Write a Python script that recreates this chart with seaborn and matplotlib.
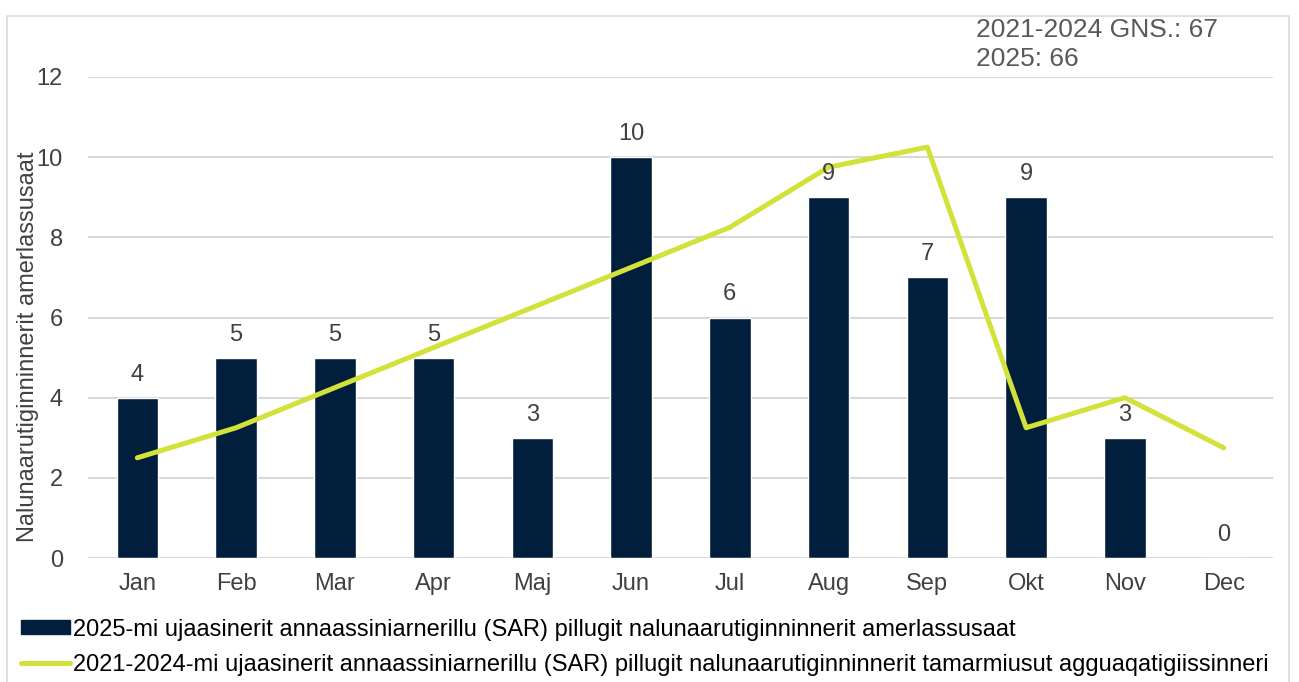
import numpy as np
import pandas as pd
import matplotlib
matplotlib.use("Agg")
import matplotlib.pyplot as plt
import seaborn as sns
from matplotlib.patches import Patch, Rectangle
from matplotlib.lines import Line2D

months = ["Jan", "Feb", "Mar", "Apr", "Maj", "Jun", "Jul", "Aug", "Sep", "Okt", "Nov", "Dec"]
counts_2025 = [4, 5, 5, 5, 3, 10, 6, 9, 7, 9, 3, 0]
avg_2021_2024 = [2.5, 3.25, 4.25, 5.25, 6.25, 7.25, 8.25, 9.75, 10.25, 3.25, 4.0, 2.75]

bar_label = "2025-mi ujaasinerit annaassiniarnerillu (SAR) pillugit nalunaarutiginninnerit amerlassusaat"
line_label = "2021-2024-mi ujaasinerit annaassiniarnerillu (SAR) pillugit nalunaarutiginninnerit tamarmiusut agguaqatigiissinneri"
note_text = "2021-2024 GNS.: 67\n2025: 66"

bar_color = "#011f3c"
line_color = "#d3e13b"
text_color = "#404040"
grid_color = "#d9d9d9"

sns.set_theme(style="white")
plt.rcParams["font.family"] = ["Liberation Sans", "DejaVu Sans"]

df = pd.DataFrame({"month": months, "count": counts_2025, "avg": avg_2021_2024})

fig = plt.figure(figsize=(12.99, 6.82), dpi=100)
ax = fig.add_axes([0.0677, 0.1818, 0.9123, 0.7053])

# outer frame
fig.patches.append(Rectangle((0.0055, -0.01), 0.987, 0.987, transform=fig.transFigure,
                             fill=False, edgecolor=grid_color, linewidth=1.2))

sns.barplot(data=df, x="month", y="count", color=bar_color, width=0.42,
            saturation=1, ax=ax, zorder=2)
sns.lineplot(x=np.arange(len(months)), y=avg_2021_2024, color=line_color,
             linewidth=3.6, ax=ax, zorder=3, solid_capstyle="round")

for i, v in enumerate(counts_2025):
    ax.text(i, v + 0.3, str(v), ha="center", va="bottom", fontsize=17, color=text_color, zorder=4)

ax.set_xlim(-0.5, 11.5)
ax.set_ylim(0, 12)
ax.set_yticks(range(0, 13, 2))
ax.yaxis.grid(True, color=grid_color, linewidth=1.5, zorder=0)
ax.set_axisbelow(True)
for s in ax.spines.values():
    s.set_visible(False)
ax.tick_params(axis="both", labelsize=17, colors=text_color, length=0)
ax.tick_params(axis="x", pad=11)
ax.tick_params(axis="y", pad=18)
ax.set_xlabel("")
ax.set_ylabel("Nalunaarutiginninnerit amerlassusaat", fontsize=17, color=text_color)
ax.yaxis.set_label_coords(-0.041, 0.44)

fig.text(0.751, 0.935, note_text, fontsize=19, color="#595959", ha="left", va="center",
         linespacing=1.25)

handles = [Patch(facecolor=bar_color, edgecolor=bar_color),
           Line2D([0], [0], color=line_color, linewidth=3.6)]
fig.legend(handles, [bar_label, line_label], loc="upper left",
           bbox_to_anchor=(0.016, 0.093), frameon=False, fontsize=17,
           handlelength=2.1, handleheight=0.55, handletextpad=0.1, labelspacing=0.55,
           borderaxespad=0, borderpad=0, labelcolor="black")

fig.savefig("out.png", dpi=100)
